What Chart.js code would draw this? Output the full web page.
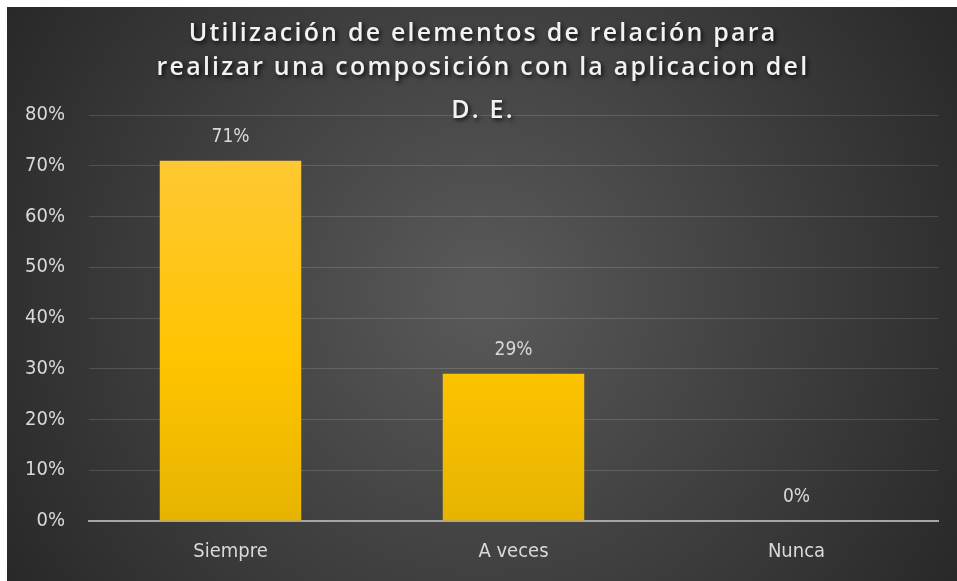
<!DOCTYPE html>
<html>
<head>
<meta charset="utf-8">
<script src="https://cdn.jsdelivr.net/npm/chart.js@4.4.1/dist/chart.umd.min.js"></script>
<style>
  html, body { margin: 0; padding: 0; background: #ffffff; }
  #wrap { position: absolute; left: 7px; top: 7px; width: 950px; height: 574px; }
</style>
</head>
<body>
<div id="wrap"><canvas id="chart"></canvas></div>
<script>
// datos del gráfico
const categories = ["Siempre", "A veces", "Nunca"];
const values = [0.71, 0.29, 0];
const yTicks = [0, 0.1, 0.2, 0.3, 0.4, 0.5, 0.6, 0.7, 0.8];
const titleLines = [
  "Utilización de elementos de relación para",
  "realizar una composición con la aplicacion del",
  "D. E."
];

const fontFamily = '"Liberation Sans Narrow", "DejaVu Sans Condensed", sans-serif';

// fondo oscuro con degradado radial
const backgroundPlugin = {
  id: "darkBackground",
  beforeDraw(chart) {
    const { ctx, width, height } = chart;
    const g = ctx.createRadialGradient(width * 0.5, height * 0.5, 20, width * 0.5, height * 0.5, width * 0.6);
    g.addColorStop(0, "#585858");
    g.addColorStop(1, "#272727");
    ctx.save();
    ctx.fillStyle = g;
    ctx.fillRect(0, 0, width, height);
    ctx.restore();
  }
};

// título con sombra, dibujado encima del área del gráfico
const titlePlugin = {
  id: "shadowTitle",
  afterDraw(chart) {
    const { ctx, width } = chart;
    ctx.save();
    ctx.font = '600 25px "Open Sans", sans-serif';
    ctx.letterSpacing = "2.2px";
    ctx.textAlign = "center";
    ctx.textBaseline = "middle";
    ctx.fillStyle = "#f2f2f2";
    ctx.shadowColor = "rgba(0,0,0,0.8)";
    ctx.shadowBlur = 4;
    ctx.shadowOffsetX = 2;
    ctx.shadowOffsetY = 2;
    const ys = [27, 61, 104];
    titleLines.forEach((line, i) => ctx.fillText(line, width / 2 + 1, ys[i]));
    ctx.restore();
  }
};

// etiquetas de valor sobre las barras
const valueLabelPlugin = {
  id: "valueLabels",
  afterDatasetsDraw(chart) {
    const { ctx } = chart;
    const meta = chart.getDatasetMeta(0);
    ctx.save();
    ctx.font = "19px " + fontFamily;
    ctx.fillStyle = "#d9d9d9";
    ctx.textAlign = "center";
    ctx.textBaseline = "middle";
    meta.data.forEach((bar, i) => {
      ctx.fillText(Math.round(values[i] * 100) + "%", bar.x, bar.y - 24);
    });
    ctx.restore();
  }
};

const ctx = document.getElementById("chart").getContext("2d");

function barGradient(context) {
  const { chart } = context;
  const area = chart.chartArea;
  if (!area) return "#ffc000";
  const g = chart.ctx.createLinearGradient(0, area.top, 0, area.bottom);
  g.addColorStop(0, "#ffc93f");
  g.addColorStop(0.6, "#ffc400");
  g.addColorStop(1, "#e6b400");
  return g;
}

new Chart(ctx, {
  type: "bar",
  data: {
    labels: categories,
    datasets: [{
      data: values,
      backgroundColor: barGradient,
      borderWidth: 0,
      categoryPercentage: 1,
      barPercentage: 0.5
    }]
  },
  options: {
    responsive: true,
    maintainAspectRatio: false,
    animation: false,
    layout: { padding: { top: 108, right: 19, bottom: 0, left: 0 } },
    plugins: {
      legend: { display: false },
      tooltip: { enabled: false }
    },
    scales: {
      x: {
        afterFit(scale) { scale.height = 60; },
        grid: { display: false, drawTicks: false },
        border: { display: true, color: "#a6a6a6", width: 2 },
        ticks: { color: "#d9d9d9", font: { family: fontFamily, size: 20 }, padding: 19 }
      },
      y: {
        min: 0,
        max: 0.8,
        afterFit(scale) { scale.width = 82; },
        afterBuildTicks(scale) { scale.ticks = yTicks.map(v => ({ value: v })); },
        grid: { color: "rgba(255,255,255,0.14)", lineWidth: 1, drawTicks: false },
        border: { display: false },
        ticks: {
          color: "#d9d9d9",
          padding: 24,
          font: { family: fontFamily, size: 20 },
          callback: v => Math.round(v * 100) + "%"
        }
      }
    }
  },
  plugins: [backgroundPlugin, titlePlugin, valueLabelPlugin]
});
</script>
</body>
</html>
